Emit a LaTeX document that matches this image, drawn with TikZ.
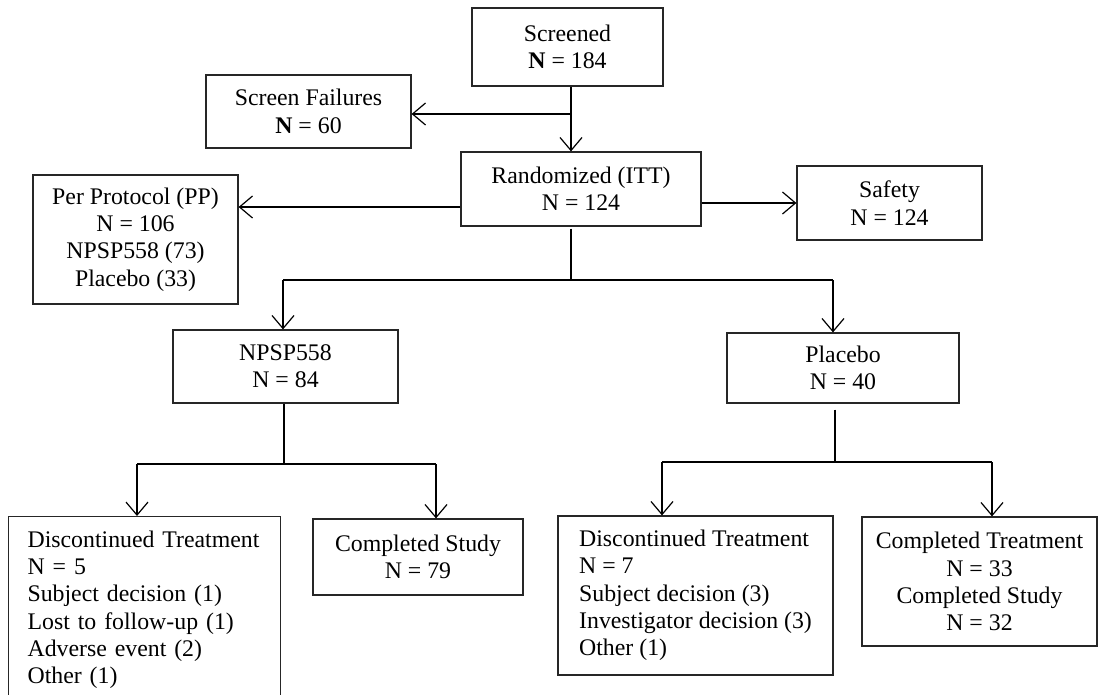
\documentclass[tikz,border=0pt]{standalone}
\usepackage{fontspec}
\setmainfont{Liberation Serif}
\usetikzlibrary{arrows.meta}
\begin{document}
\begin{tikzpicture}[x=1pt,y=-1pt,
  box/.style={draw=black!85, line width=1.2pt, align=center, inner sep=0pt,
    font=\fontsize{23.8}{27.3}\selectfont},
  thk/.style={line width=2.2pt},
  thn/.style={line width=1.1pt},
  arr/.style={-{Straight Barb[length=13pt,width=22pt,line width=1.2pt]}}]
\useasboundingbox (0,0) rectangle (1099,694);

% boxes
\node[box, minimum width=191pt, minimum height=78pt] (scr) at (567.5,47) {Screened\\\textbf{N} = 184};
\node[box, minimum width=205pt, minimum height=73pt] (sf) at (308.5,111.5) {Screen Failures\\\textbf{N} = 60};
\node[box, minimum width=240pt, minimum height=74pt] (rand) at (581,189) {Randomized (ITT)\\N = 124};
\node[box, minimum width=205pt, minimum height=129pt] (pp) at (135.5,239.5) {Per Protocol (PP)\\N = 106\\NPSP558 (73)\\Placebo (33)};
\node[box, minimum width=185pt, minimum height=74pt] (saf) at (889.5,203) {Safety\\N = 124};
\node[box, minimum width=225pt, minimum height=73pt] (npsp) at (285.5,366.5) {NPSP558\\N = 84};
\node[box, minimum width=232pt, minimum height=70pt] (plac) at (843,368) {Placebo\\N = 40};
\node[box, align=left, anchor=north west, inner xsep=19pt, inner ysep=14pt, text width=234pt] (dl) at (8,516)
  {Discontinued Treatment\\N = 5\\Subject decision (1)\\Lost to follow-up (1)\\Adverse event (2)\\Other (1)\rule[-40pt]{0pt}{0pt}};
\node[box, minimum width=210pt, minimum height=76pt] (cs) at (418,557) {Completed Study\\N = 79};
\node[box, align=left, minimum width=275pt, minimum height=159pt] (dr) at (695.5,595.5)
  {Discontinued Treatment\\N = 7\\Subject decision (3)\\Investigator decision (3)\\Other (1)};
\node[box, minimum width=235pt, minimum height=129pt] (ct) at (979.5,581.5) {Completed Treatment\\N = 33\\Completed Study\\N = 32};

% junction coordinates
\coordinate (j1) at (571,114);
\coordinate (ry) at (0,207);
\coordinate (b0) at (571,280);
\coordinate (bl) at (283,280);
\coordinate (br) at (833,280);
\coordinate (n0) at (284,464);
\coordinate (nl) at (137,464);
\coordinate (nr) at (436,464);
\coordinate (p0) at (835,462);
\coordinate (pl) at (662,462);
\coordinate (pr) at (992,462);

% connectors
\draw[thn, arr] (scr.south -| j1) -- (rand.north -| j1);
\draw[thk, arr] (j1) -- (sf.east |- j1);
\draw[thk, arr] (rand.west |- ry) -- (pp.east |- ry);
\draw[thn, arr] (rand.east |- saf.west) -- (saf.west);

\draw[thn] ([yshift=-2pt]rand.south -| b0) -- (b0);
\draw[thk] (bl) -- (br);
\draw[thk, arr] (bl) -- (npsp.north -| bl);
\draw[thk, arr] (br) -- (plac.north -| br);

\draw[thk] (npsp.south -| n0) -- (n0);
\draw[thk] (nl) -- (nr);
\draw[thk, arr] (nl) -- (dl.north -| nl);
\draw[thn, arr] (nr) -- (cs.north -| nr);

\draw[thn] ([yshift=-6pt]plac.south -| p0) -- (p0);
\draw[thk] (pl) -- (pr);
\draw[thk, arr] (pl) -- (dr.north -| pl);
\draw[thk, arr] (pr) -- (ct.north -| pr);
\end{tikzpicture}
\end{document}
